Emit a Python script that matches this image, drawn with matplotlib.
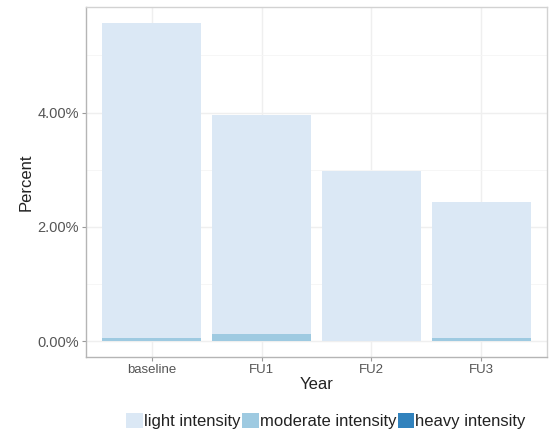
import matplotlib
matplotlib.use("Agg")
import matplotlib.pyplot as plt
import numpy as np
from matplotlib.patches import Patch
from matplotlib.ticker import FuncFormatter, MultipleLocator

years = ["baseline", "FU1", "FU2", "FU3"]
series_names = ["light intensity", "moderate intensity", "heavy intensity"]
light = [5.51, 3.84, 2.97, 2.38]
moderate = [0.06, 0.12, 0.0, 0.05]
heavy = [0.0, 0.0, 0.0, 0.0]
colors = ["#dbe8f5", "#9ecae1", "#3182bd"]
y_ticks = [0, 2, 4]

plt.rcParams['font.family'] = ['Liberation Sans', 'DejaVu Sans']

fig = plt.figure(figsize=(5.49, 4.33), dpi=100)
ax = fig.add_axes([86/549, 76/433, 461/549, 350/433])

x = np.arange(len(years))
h = np.array(heavy)
m = np.array(moderate)
l = np.array(light)
ax.bar(x, h, width=0.9, color=colors[2], zorder=2)
ax.bar(x, m, bottom=h, width=0.9, color=colors[1], zorder=2)
ax.bar(x, l, bottom=h + m, width=0.9, color=colors[0], zorder=2)

total = (h + m + l).max()
pad = total * 0.05
ax.set_ylim(-pad, total + pad)
ax.set_xlim(-0.6, len(years) - 0.4)

ax.set_yticks(y_ticks)
ax.yaxis.set_minor_locator(MultipleLocator(1))
ax.yaxis.set_major_formatter(FuncFormatter(lambda v, p: f"{v:.2f}%"))
ax.set_xticks(x)
ax.set_xticklabels(years)

ax.grid(True, which='major', color='#efefef', linewidth=1.0, zorder=0)
ax.grid(True, which='minor', axis='y', color='#f5f5f5', linewidth=0.6, zorder=0)
ax.set_axisbelow(True)

for s in ax.spines.values():
    s.set_color('#d2d2d2')
    s.set_linewidth(1.0)
ax.spines['left'].set_color('#b5b5b5')
ax.spines['bottom'].set_color('#b5b5b5')

ax.tick_params(axis='both', which='major', length=3, color='#9a9a9a', labelcolor='#555555', pad=2)
ax.tick_params(axis='y', which='major', labelsize=10.5)
ax.tick_params(axis='x', which='major', labelsize=9.5)
ax.tick_params(axis='y', which='minor', length=0)

ax.set_xlabel("Year", fontsize=12, labelpad=1, color='#222222')
ax.set_ylabel("Percent", fontsize=12, labelpad=3, color='#222222')

handles = [Patch(facecolor=c, edgecolor='none') for c in colors]
fig.legend(handles, series_names, ncol=3, loc='center', bbox_to_anchor=(326/549, 12/433),
           frameon=False, fontsize=12, handlelength=1.0, handleheight=1.0,
           handletextpad=0.05, columnspacing=0.1, borderpad=0, labelcolor='#222222')

fig.savefig("out.png", dpi=100)
